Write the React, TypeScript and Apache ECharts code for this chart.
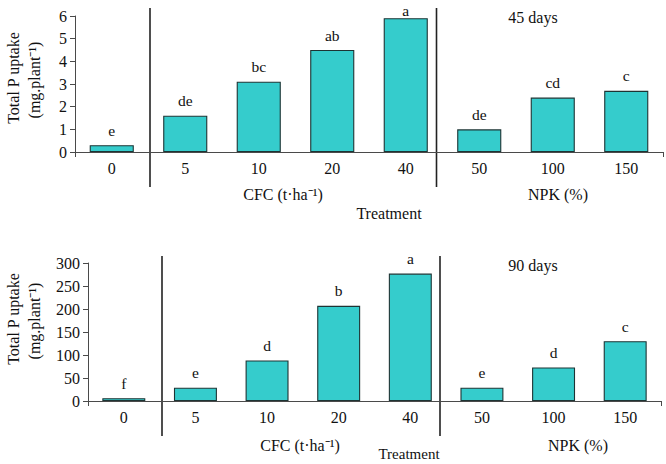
import React, { useEffect, useRef } from "react";
import * as echarts from "echarts";

// Treatment categories (CFC rates in t·ha⁻¹, then NPK levels in %)
const categories = ["0", "5", "10", "20", "40", "50", "100", "150"];

// Total P uptake (mg·plant⁻¹) and significance letters
const uptake45 = [0.3, 1.6, 3.1, 4.5, 5.9, 1.0, 2.4, 2.7];
const letters45 = ["e", "de", "bc", "ab", "a", "de", "cd", "c"];
const uptake90 = [6, 29, 88, 207, 277, 29, 73, 130];
const letters90 = ["f", "e", "d", "b", "a", "e", "d", "c"];

const FONT = "'Liberation Serif', 'Times New Roman', serif";
const BAR_FILL = "#35cccc";
const BAR_EDGE = "#1d3434";
const AXIS = "#4a4a4a";

function makeSeries(values: number[], letters: string[], idx: number, tightTop: number) {
  return {
    type: "bar",
    xAxisIndex: idx,
    yAxisIndex: idx,
    barWidth: "60%",
    data: values.map((v, i) => ({
      value: v,
      label: {
        formatter: letters[i],
        distance: i === tightTop ? 0 : 7,
      },
    })),
    itemStyle: { color: BAR_FILL, borderColor: BAR_EDGE, borderWidth: 1.1 },
    label: {
      show: true,
      position: "top",
      color: "#111",
      fontFamily: FONT,
      fontSize: 15.5,
    },
  };
}

function xAxisFor(idx: number) {
  return {
    type: "category",
    gridIndex: idx,
    data: categories,
    axisLine: { lineStyle: { color: AXIS, width: 1 } },
    axisTick: { show: true, interval: (i: number) => i === 0, length: 5, lineStyle: { color: AXIS } },
    axisLabel: { color: "#111", fontFamily: FONT, fontSize: 16, margin: 8 },
  };
}

function yAxisFor(idx: number, max: number, interval: number) {
  return {
    type: "value",
    gridIndex: idx,
    min: 0,
    max,
    interval,
    splitLine: { show: false },
    axisLine: { show: true, lineStyle: { color: AXIS, width: 1 } },
    axisTick: { show: true, length: 5, lineStyle: { color: AXIS } },
    axisLabel: { color: "#111", fontFamily: FONT, fontSize: 16, margin: 8 },
  };
}

function txt(x: number, y: number, text: string, extra: any = {}, size = 16) {
  return {
    type: "text",
    x,
    y,
    style: {
      text,
      fill: "#111",
      font: `${size}px ${FONT}`,
      textAlign: "center",
      textVerticalAlign: "middle",
    },
    ...extra,
  };
}

function vline(x: number, y1: number, y2: number) {
  return {
    type: "line",
    shape: { x1: x, y1, x2: x, y2 },
    style: { stroke: "#222", lineWidth: 1.6 },
  };
}

export default function App() {
  const ref = useRef<HTMLDivElement>(null);

  useEffect(() => {
    document.body.style.margin = "0";
    if (!ref.current) return;
    const chart = echarts.init(ref.current, null, { renderer: "svg" });
    chart.setOption({
      animation: false,
      backgroundColor: "#ffffff",
      grid: [
        { left: 75, top: 16, width: 588, height: 136 },
        { left: 88, top: 263, width: 573, height: 138 },
      ],
      xAxis: [xAxisFor(0), xAxisFor(1)],
      yAxis: [yAxisFor(0, 6, 1), yAxisFor(1, 300, 50)],
      series: [makeSeries(uptake45, letters45, 0, 4), makeSeries(uptake90, letters90, 1, -1)],
      graphic: [
        // group dividers
        vline(150, 8, 187),
        vline(436.5, 8, 187),
        vline(162, 256, 436),
        vline(440, 256, 436),
        // sampling time
        txt(533, 17, "45 days"),
        txt(533, 265, "90 days"),
        // group titles and x title
        txt(283, 194, "CFC (t·ha⁻¹)"),
        txt(558, 194, "NPK (%)"),
        txt(389, 213, "Treatment"),
        txt(300, 445, "CFC (t·ha⁻¹)"),
        txt(578, 445, "NPK (%)"),
        txt(409, 454, "Treatment", {}, 15),
        // y titles
        txt(13, 78, "Total P uptake", { rotation: Math.PI / 2 }),
        txt(34, 80, "(mg.plant⁻¹)", { rotation: Math.PI / 2 }),
        txt(13, 319, "Total P uptake", { rotation: Math.PI / 2 }),
        txt(34, 321, "(mg.plant⁻¹)", { rotation: Math.PI / 2 }),
      ],
    });
    return () => chart.dispose();
  }, []);

  return <div ref={ref} style={{ width: 666, height: 464 }} />;
}
